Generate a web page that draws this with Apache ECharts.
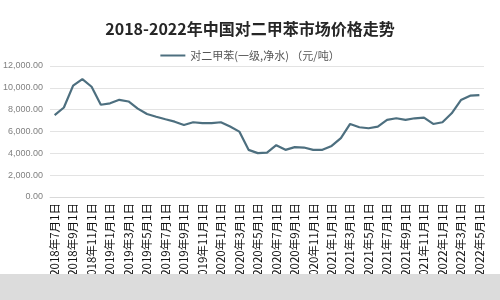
<!DOCTYPE html>
<html><head><meta charset="utf-8">
<script src="https://cdn.jsdelivr.net/npm/echarts@6/dist/echarts.min.js"></script>
<style>html,body{margin:0;padding:0;background:#fff}#c{width:500px;height:300px}</style>
</head><body><div id="c"></div>
<script>
const titleText = '2018-2022年中国对二甲苯市场价格走势';
const seriesName = '对二甲苯(一级,净水) （元/吨）';
const months = [
 '2018年7月1日','2018年8月1日','2018年9月1日','2018年10月1日','2018年11月1日','2018年12月1日',
 '2019年1月1日','2019年2月1日','2019年3月1日','2019年4月1日','2019年5月1日','2019年6月1日',
 '2019年7月1日','2019年8月1日','2019年9月1日','2019年10月1日','2019年11月1日','2019年12月1日',
 '2020年1月1日','2020年2月1日','2020年3月1日','2020年4月1日','2020年5月1日','2020年6月1日',
 '2020年7月1日','2020年8月1日','2020年9月1日','2020年10月1日','2020年11月1日','2020年12月1日',
 '2021年1月1日','2021年2月1日','2021年3月1日','2021年4月1日','2021年5月1日','2021年6月1日',
 '2021年7月1日','2021年8月1日','2021年9月1日','2021年10月1日','2021年11月1日','2021年12月1日',
 '2022年1月1日','2022年2月1日','2022年3月1日','2022年4月1日','2022年5月1日'
];
const prices = [
 7500, 8200, 10200, 10800, 10100, 8450,
 8580, 8900, 8750, 8100, 7600, 7350,
 7120, 6900, 6600, 6850, 6760, 6760,
 6850, 6450, 5990, 4320, 4020, 4070,
 4750, 4320, 4570, 4530, 4320, 4320,
 4680, 5390, 6690, 6390, 6300, 6450,
 7060, 7210, 7060, 7210, 7270, 6690,
 6850, 7670, 8880, 9280, 9340
];
const yTicks = [0, 2000, 4000, 6000, 8000, 10000, 12000];

const chart = echarts.init(document.getElementById('c'), null, {renderer:'canvas'});
chart.setOption({
  animation: false,
  backgroundColor: '#fff',
  title: {
    text: titleText, left: 'center', top: 16,
    textStyle: {fontFamily: 'Noto Sans CJK SC', fontSize: 16, fontWeight: 'bold', color: '#262626'}
  },
  legend: {
    top: 45, left: 'center', itemWidth: 25, itemHeight: 2, itemGap: 4,
    icon: 'rect',
    textStyle: {fontFamily: 'Noto Sans CJK SC', fontSize: 11, color: '#555'},
    data: [seriesName]
  },
  grid: {left: 48, right: 16, top: 66, bottom: 103, containLabel: false},
  xAxis: {
    type: 'category', data: months, boundaryGap: true,
    axisLine: {lineStyle: {color: '#d9d9d9'}},
    axisTick: {show: false},
    axisLabel: {interval: 1, rotate: 90, fontSize: 11.5, color: '#111', margin: 6,
      fontFamily: 'Noto Sans CJK SC'}
  },
  yAxis: {
    type: 'value', min: yTicks[0], max: yTicks[yTicks.length-1], interval: 2000,
    axisLine: {show: false}, axisTick: {show: false},
    splitLine: {lineStyle: {color: '#e3e3e3'}},
    axisLabel: {fontSize: 9, color: '#808080', margin: 7, fontFamily: 'Liberation Sans',
      formatter: v => v.toLocaleString('en-US', {minimumFractionDigits: 2, maximumFractionDigits: 2})}
  },
  series: [{
    name: seriesName, type: 'line', data: prices, symbol: 'none',
    lineStyle: {color: '#4d6f7f', width: 2.2}, itemStyle: {color: '#4d6f7f'}
  }],
  graphic: [{
    type: 'rect', z: 100, shape: {x: 0, y: 274, width: 500, height: 26},
    style: {fill: '#dcdcdc'}
  }]
});
</script></body></html>
